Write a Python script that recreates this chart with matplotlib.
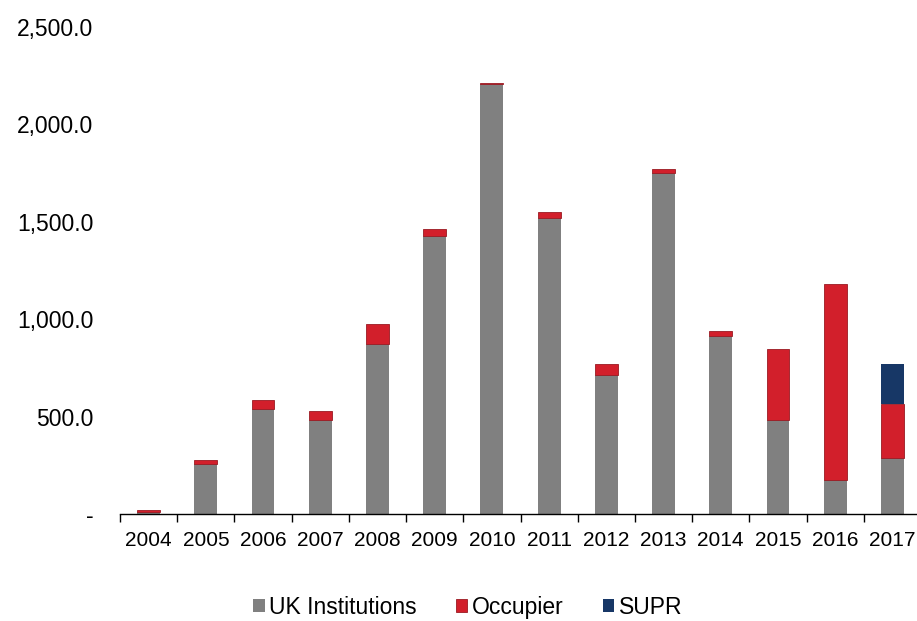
import matplotlib
matplotlib.use("Agg")
import matplotlib.pyplot as plt
import matplotlib.ticker as ticker
import numpy as np

plt.rcParams["font.family"] = ["Liberation Sans", "DejaVu Sans"]

# Data
YEARS = ["2004", "2005", "2006", "2007", "2008", "2009", "2010",
         "2011", "2012", "2013", "2014", "2015", "2016", "2017"]
UK_INSTITUTIONS = [10, 255, 540, 480, 872, 1425, 2205,
                   1520, 715, 1750, 914, 483, 172, 290]
OCCUPIER = [10, 20, 45, 50, 105, 40, 10,
            30, 55, 22, 26, 363, 1011, 276]
SUPR = [0, 0, 0, 0, 0, 0, 0,
        0, 0, 0, 0, 0, 0, 202]

Y_TICKS = [0, 500, 1000, 1500, 2000, 2500]

GREY = "#808080"
RED = "#D21F2B"
NAVY = "#173766"


def fmt_y(v, _):
    if v == 0:
        return "-"
    return f"{v:,.1f}"


def main():
    fig = plt.figure(figsize=(9.17, 6.21), dpi=100)
    ax = fig.add_axes([120 / 917, 1 - 514 / 621, 801 / 917, 487 / 621])

    x = np.arange(len(YEARS))
    uk = np.array(UK_INSTITUTIONS)
    occ = np.array(OCCUPIER)
    supr = np.array(SUPR)
    w = 0.4

    ax.bar(x, uk, w, color=GREY, label="UK Institutions")
    ax.bar(x, occ, w, bottom=uk, color=RED, edgecolor="#9a1a22",
           linewidth=0.6, label="Occupier")
    ax.bar(x, supr, w, bottom=uk + occ, color=NAVY, label="SUPR")

    ax.set_xlim(-0.5, len(YEARS) - 0.5)
    ax.set_ylim(0, 2500)

    ax.set_yticks(Y_TICKS)
    ax.yaxis.set_major_formatter(ticker.FuncFormatter(fmt_y))
    ax.tick_params(axis="y", length=0, pad=19, labelsize=16.5)

    # category labels at centres, tick marks at the boundaries
    ax.set_xticks(x)
    ax.set_xticklabels(YEARS)
    ax.tick_params(axis="x", which="major", length=0, pad=12, labelsize=15)
    ax.set_xticks(np.arange(len(YEARS) + 1) - 0.5, minor=True)
    ax.tick_params(axis="x", which="minor", length=6, width=1, direction="out")

    for side in ["top", "right", "left"]:
        ax.spines[side].set_visible(False)
    ax.spines["bottom"].set_linewidth(1)

    fig.legend(loc="center", bbox_to_anchor=(0.51, 0.022), ncol=3,
               frameon=False, fontsize=16.5, handlelength=0.5, handleheight=0.5,
               handletextpad=0.2, columnspacing=1.7)

    fig.savefig("out.png", dpi=100)
    plt.close(fig)


if __name__ == "__main__":
    main()
